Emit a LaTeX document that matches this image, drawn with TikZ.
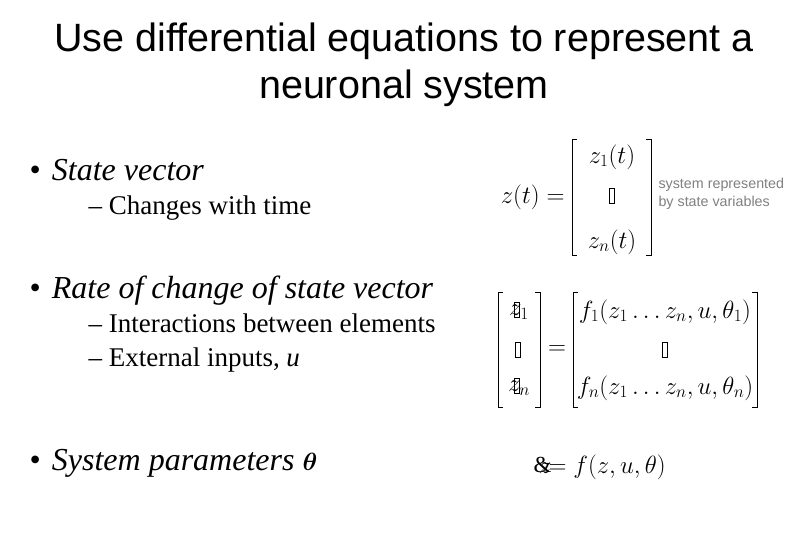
\documentclass[tikz,border=0pt]{standalone}
\usepackage{amsmath,bm}
\usepackage{fontspec}
\setmainfont{Liberation Serif}
\newfontfamily\sans{Liberation Sans}
\begin{document}
\begin{tikzpicture}[x=1pt,y=-1pt,
  ttl/.style={font=\sans\fontsize{39.5}{44}\selectfont,anchor=base,align=center},
  bul/.style={font=\fontsize{32}{36}\selectfont\itshape,anchor=base west},
  sub/.style={font=\fontsize{27}{30}\selectfont,anchor=base west},
  mth/.style={font=\fontsize{23}{26}\selectfont},
  brk/.style={line width=1pt},
  gl/.style={draw,line width=0.8pt,minimum width=5pt,minimum height=15pt,inner sep=0pt},
  note/.style={font=\sans\fontsize{14.3}{18}\selectfont,text=gray,align=left,anchor=west}]
\useasboundingbox[fill=white] (0,0) rectangle (810,540);
\node[ttl] (t1) at (404,52) {Use differential equations to represent a};
\node[ttl] (t2) at (404,99) {neuronal system};
\node[bul] (b1) at (26,180) {\upshape•\hspace{0.35em}\itshape State vector};
\node[sub] (s1) at (85,214) {– Changes with time};
\node[bul] (b2) at (26,298) {\upshape•\hspace{0.35em}\itshape Rate of change of state vector};
\node[sub] (s2) at (85,332) {– Interactions between elements};
\node[sub] (s3) at (85,366) {– External inputs, \textit{u}};
\node[bul] (b3) at (26,470) {\upshape•\hspace{0.35em}\itshape System parameters $\bm{\theta}$};
% eq 1
\node[mth,anchor=east] (e1) at (568,197) {$z(t) =$};
\draw[brk] (577,140) -- (572,140) -- (572,255) -- (577,255);
\draw[brk] (646,140) -- (651,140) -- (651,255) -- (646,255);
\node[mth] (z1) at (612,157) {$z_1(t)$};
\node[gl] (g1) at (612,196) {};
\node[mth] (zn) at (612,242) {$z_n(t)$};
\node[note] (nt) at (655,194) {system represented\\by state variables};
% eq 2
\draw[brk] (503,292) -- (498,292) -- (498,407) -- (503,407);
\draw[brk] (535,292) -- (540,292) -- (540,407) -- (535,407);
\node[mth] (d1) at (519,312) {$z_1$};
\node[gl] (dg1) at (517,310) {};
\node[gl] (dg) at (518,350) {};
\node[mth] (dn) at (519,388) {$z_n$};
\node[gl] (dg2) at (517,386) {};
\node[mth] (eq) at (557,350) {$=$};
\draw[brk] (578,292) -- (573,292) -- (573,407) -- (578,407);
\draw[brk] (752,292) -- (757,292) -- (757,407) -- (752,407);
\node[mth] (f1) at (665,312) {$f_1(z_1\ldots z_n,u,\theta_1)$};
\node[gl] (fg) at (665,350) {};
\node[mth] (fn) at (665,388) {$f_n(z_1\ldots z_n,u,\theta_n)$};
% eq 3
\node[mth] (zz) at (545,468) {$z$};
\node[mth,anchor=west] (amp) at (530,465) {\&};
\node[mth,anchor=west] (e3) at (545,467) {$= f(z,u,\theta)$};
\end{tikzpicture}
\end{document}
